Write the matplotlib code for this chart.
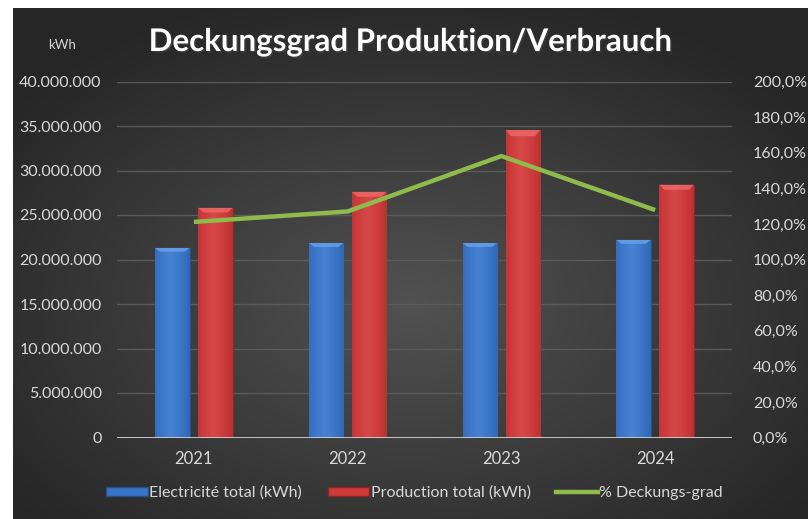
#!/usr/bin/env python3
# -*- coding: utf-8 -*-
"""
Deckungsgrad Produktion/Verbrauch - bars + line on dark background
"""

import numpy as np
import matplotlib
matplotlib.use('Agg')
import matplotlib.pyplot as plt
import matplotlib.patheffects as pe
from matplotlib.patches import Patch
from matplotlib.lines import Line2D
from matplotlib.ticker import FuncFormatter


years = ['2021', '2022', '2023', '2024']
electricite = [21300000, 21850000, 21850000, 22200000]
production = [25800000, 27600000, 34550000, 28400000]
deckung = [121.1, 127.0, 158.1, 127.8]

left_ticks = np.arange(0, 40000001, 5000000)
right_ticks = np.arange(0, 201, 20)

plt.rcParams['font.family'] = ['Lato', 'DejaVu Sans']

W, H = 808, 519
fig = plt.figure(figsize=(W / 100, H / 100), dpi=100)
fig.patch.set_facecolor('white')

# dark radial background, small white margin on top / left
bg = fig.add_axes([13 / W, 0, 1 - 13 / W, 1 - 8 / H])
bg.set_axis_off()
yy, xx = np.mgrid[0:1:300j, 0:1:500j]
r = np.sqrt(((xx - 0.5) / 0.75) ** 2 + ((yy - 0.58) / 0.75) ** 2)
shade = np.clip(0.32 - 0.2 * r, 0.15, 0.32)
bg.imshow(np.dstack([shade] * 3), aspect='auto', extent=[0, 1, 0, 1],
          interpolation='bilinear')
bg.set_xlim(0, 1)
bg.set_ylim(0, 1)

ax = fig.add_axes([117 / W, (H - 437.5) / H, 615 / W, 356 / H])
ax.patch.set_alpha(0)
ax2 = ax.twinx()

x = np.arange(len(years))
bw = 0.225
off = 0.14


def shaded_bars(axis, xs, vals, base, light, dark):
    bars = axis.bar(xs, vals, bw, color=base, edgecolor=dark, linewidth=0.6, zorder=3)
    grad = np.linspace(0, 1, 64)
    prof = np.clip(1 - np.abs(grad - 0.45) * 1.5, 0, 1)
    b = np.array(matplotlib.colors.to_rgb(base))
    l = np.array(matplotlib.colors.to_rgb(light))
    d = np.array(matplotlib.colors.to_rgb(dark))
    img = np.zeros((1, 64, 3))
    for i, p in enumerate(prof):
        if p > 0.5:
            img[0, i] = b + (l - b) * (p - 0.5) * 0.6
        else:
            img[0, i] = d + (b - d) * (0.5 + p)
    for bar in bars:
        x0, w, h = bar.get_x(), bar.get_width(), bar.get_height()
        im = axis.imshow(img, aspect='auto', extent=[x0, x0 + w, 0, h],
                         zorder=3.5, interpolation='bilinear')
        im.set_clip_path(bar)
        # bevel on top
        cap = h * 0.02
        axis.fill([x0, x0 + w, x0 + w * 0.85, x0 + w * 0.15],
                  [h, h, h - cap, h - cap], color=light, alpha=0.8, zorder=4, lw=0)
    return bars


shaded_bars(ax, x - off, electricite, '#3a74c6', '#6aa2ea', '#23508c')
shaded_bars(ax, x + off, production, '#cc3a3a', '#ee6a6a', '#8c2424')

ax.set_xlim(-0.5, 3.5)
ax.set_ylim(0, 40000000)
ax.set_yticks(left_ticks)
ax.yaxis.set_major_formatter(FuncFormatter(lambda v, p: f'{int(v):,}'.replace(',', '.')))
ax.grid(axis='y', color='#5a5a5a', linewidth=1, zorder=0)
ax.set_axisbelow(True)
ax.set_xticks(x)
ax.set_xticklabels(years)

ax2.plot(x, deckung, color='#8fba4c', linewidth=3.2, solid_capstyle='butt', zorder=5)
ax2.set_ylim(0, 200)
ax2.set_yticks(right_ticks)
ax2.yaxis.set_major_formatter(FuncFormatter(lambda v, p: f'{v:.1f}%'.replace('.', ',')))

for a in (ax, ax2):
    for s in ('top', 'left', 'right', 'bottom'):
        a.spines[s].set_visible(False)
    a.tick_params(length=0, colors='#d9d9d9', labelsize=11.5)
ax.axhline(0, color='#d0d0d0', linewidth=1.3, zorder=6)
ax.tick_params(axis='y', pad=11)
ax.tick_params(axis='x', pad=10, labelsize=12)
ax2.tick_params(axis='y', pad=15)

fig.text(0.508, 1 - 42 / H, 'Deckungsgrad Produktion/Verbrauch', color='white',
         fontsize=22.5, fontweight='bold', ha='center', va='center',
         path_effects=[pe.withSimplePatchShadow(offset=(1, -1), alpha=0.5)])
fig.text(62 / W, 1 - 45 / H, 'kWh', color='#d9d9d9', fontsize=9.5,
         ha='center', va='center')

handles = [Patch(facecolor='#3a74c6', edgecolor='#23508c'),
           Patch(facecolor='#cc3a3a', edgecolor='#8c2424'),
           Line2D([0], [0], color='#8fba4c', linewidth=3.2)]
labels = ['Electricité total (kWh)', 'Production total (kWh)', '% Deckungs-grad']
fig.legend(handles, labels, loc='center', bbox_to_anchor=(0.513, 1 - 493 / H),
           ncol=3, frameon=False, fontsize=11.5, labelcolor='#d9d9d9',
           handlelength=2.6, handleheight=0.55, handletextpad=0.1,
           columnspacing=1.6)

fig.savefig('out.png', dpi=100, facecolor=fig.get_facecolor())
